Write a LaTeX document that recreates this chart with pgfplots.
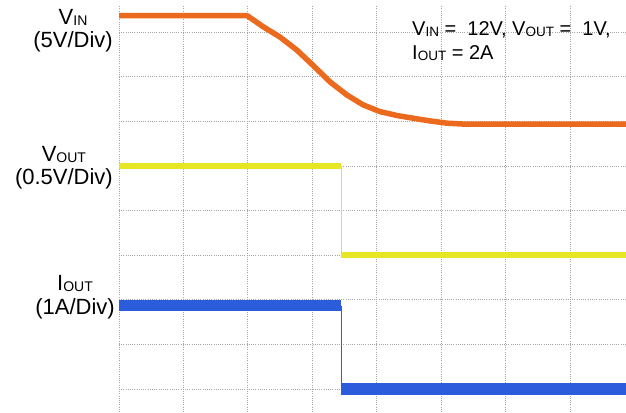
\documentclass[border=0pt]{standalone}
\usepackage{fontspec}
\setmainfont{Liberation Sans}
\usepackage{pgfplots}
\pgfplotsset{compat=1.18}
\definecolor{VinOrange}{HTML}{EC6A1E}
\definecolor{VoutYellow}{HTML}{E6E625}
\definecolor{IoutBlue}{HTML}{2B5CDB}
\newcommand{\sub}[2]{\raisebox{-0.8pt}{\fontsize{#2}{#2}\selectfont #1}}
\newcommand{\lab}{\fontsize{22}{24}\selectfont}
\newcommand{\ann}{\fontsize{20}{22}\selectfont}
\begin{document}
\begin{tikzpicture}
\begin{axis}[
  at={(119pt,0pt)}, anchor=south west,
  scale only axis, width=507pt, height=407pt,
  xmin=0, xmax=7.87, ymin=-0.516, ymax=8.61,
  xtick={0,...,7}, ytick={0,...,8},
  xticklabels={}, yticklabels={},
  major tick length=0pt,
  axis line style={draw=none},
  grid=major,
  grid style={gray!70, line width=0.7pt, dash pattern=on 0.9pt off 1.3pt},
]
% V_IN (5V/Div)
\addplot[VinOrange, line width=5.5pt, line join=round] coordinates {
  (0,8.37) (1.99,8.37) (2.24,8.12) (2.50,7.89) (2.76,7.60) (3.01,7.26)
  (3.28,6.88) (3.54,6.59) (3.79,6.37) (4.05,6.22) (4.32,6.13) (4.57,6.07)
  (4.83,6.01) (5.09,5.96) (5.34,5.94) (7.87,5.94)
};
% V_OUT (0.5V/Div)
\addplot[VoutYellow, line width=5.5pt] coordinates {(0,5) (3.45,5)};
\addplot[VoutYellow, line width=1pt] coordinates {(3.45,5) (3.45,3)};
\addplot[VoutYellow, line width=5.5pt] coordinates {(3.45,3) (7.87,3)};
% I_OUT (1A/Div)
\addplot[IoutBlue, line width=11pt] coordinates {(0,1.87) (3.45,1.87)};
\addplot[IoutBlue, line width=1.2pt] coordinates {(3.45,1.87) (3.45,0)};
\addplot[IoutBlue, line width=12pt] coordinates {(3.45,0) (7.87,0)};
\end{axis}
% channel labels
\node[anchor=base east, inner sep=0pt] (a) at (113pt,364pt) {\lab (5V/Div)};
\node[anchor=base, inner sep=0pt] at (a.center |- 0pt,387pt) {\lab V\sub{IN}{14}};
\node[anchor=base east, inner sep=0pt] (b) at (113pt,227pt) {\lab (0.5V/Div)};
\node[anchor=base, inner sep=0pt] at (b.center |- 0pt,250pt) {\lab V\sub{OUT}{14}};
\node[anchor=base east, inner sep=0pt] (c) at (115pt,97pt) {\lab (1A/Div)};
\node[anchor=base, inner sep=0pt] at (c.center |- 0pt,121pt) {\lab I\sub{OUT}{14}};
% conditions
\node[anchor=base west, inner sep=0pt] at (412pt,376pt) {\ann V\sub{IN}{13.5} =\ \ 12V,\ V\sub{OUT}{13.5} =\ \ 1V,};
\node[anchor=base west, inner sep=0pt] at (412pt,352pt) {\ann I\sub{OUT}{13.5} = 2A};
\pgfresetboundingbox
\path[use as bounding box] (0pt,0pt) rectangle (626pt,412pt);
\end{tikzpicture}
\end{document}
